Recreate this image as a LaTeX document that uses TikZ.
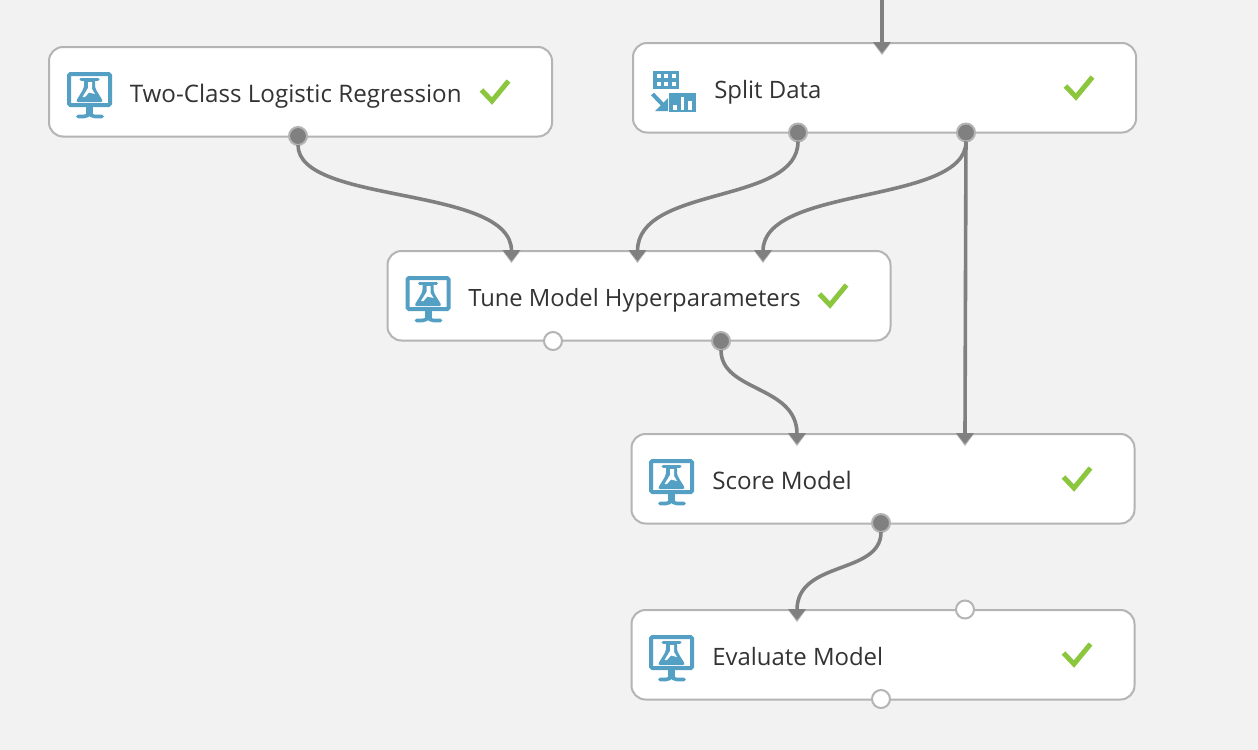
\documentclass[tikz,border=0pt]{standalone}
\usepackage{fontspec}
\setmainfont{Open Sans}
\definecolor{bgc}{HTML}{F2F2F2}
\definecolor{edgec}{HTML}{B4B4B4}
\definecolor{wirec}{HTML}{808080}
\definecolor{iconc}{HTML}{53A0C4}
\definecolor{okc}{HTML}{8CC63F}
\definecolor{txtc}{HTML}{333333}
\tikzset{
  x=0.75pt,y=-0.75pt,
  modbox/.style={draw=edgec,line width=2pt*0.75,fill=white,rounded corners=14pt*0.75,minimum width=503*0.75pt,minimum height=89.5*0.75pt,inner sep=0pt,outer sep=0pt},
  lbl/.style={text=txtc,font=\fontsize{17.95pt}{22pt}\selectfont,anchor=base west,inner sep=0pt},
  lblwide/.style={lbl,font=\fontsize{18.12pt}{22pt}\selectfont},
  lblnarrow/.style={lbl,font=\fontsize{17.85pt}{22pt}\selectfont},
  outport/.style={circle,draw=edgec,line width=2pt*0.75,fill=wirec,minimum size=18*0.75pt,inner sep=0pt,outer sep=0pt},
  freeport/.style={circle,draw=edgec,line width=2pt*0.75,fill=white,minimum size=18*0.75pt,inner sep=0pt,outer sep=0pt},
  wire/.style={draw=wirec,line width=3.6pt*0.75},
  oktick/.style={draw=okc,line width=5pt*0.75,line join=miter},
  pics/inport/.style={code={
    \fill[edgec] (-9.5,-1) -- (9.5,-1) -- (0,12) -- cycle;
    \fill[wirec] (-9,-1) -- (9,-1) -- (0,10) -- cycle;
  }},
  pics/flask/.style={code={
    \draw[iconc,line width=4pt*0.75,rounded corners=1pt] (20,27) rectangle (61,58);
    \fill[iconc] (37,58) rectangle (44,68);
    \draw[iconc,line width=3.6pt*0.75,line cap=round] (29,69.5) -- (35,69.5) .. controls (38,69.5) and (39.5,68) .. (40.5,66) .. controls (41.5,68) and (43,69.5) .. (46,69.5) -- (53,69.5);
    \draw[iconc,line width=3pt*0.75,line cap=round] (32,32.5) -- (49,32.5);
    \fill[iconc,rounded corners=2pt] (35,32) -- (46,32) -- (46,41) -- (54.5,55) -- (26.5,55) -- (35,41) -- cycle;
    \fill[white] (39,35) -- (43,35) -- (43,42) -- (46,47) -- (40,45.5) -- (36,50) -- (33.5,50) -- (39,41) -- cycle;
  }},
  pics/splitic/.style={code={
    \fill[iconc] (20,28) rectangle (46,46);
    \foreach \a in {24,31,39} \foreach \b in {31,39} \fill[white] (\a,\b) rectangle +(4,4);
    \fill[iconc] (36,50) rectangle (63,69);
    \fill[white] (40,62) rectangle (44,67);
    \fill[white] (48,54) rectangle (51,67);
    \fill[white] (55,58) rectangle (59,67);
    \draw[iconc,line width=4pt*0.75] (19.5,51) -- (31,63);
    \fill[iconc] (35,55) -- (35,68) -- (22,68) -- cycle;
  }},
}
\begin{document}
\begin{tikzpicture}
\fill[bgc] (0,0) rectangle (1258,750);
\useasboundingbox (0,0) rectangle (1258,750);

\coordinate (top) at (882,0);

% module boxes
\node[modbox,anchor=north west] (logit) at (49,47) {};
\node[modbox,anchor=north west] (split) at (633,43) {};
\node[modbox,anchor=north west] (tune)  at (387.5,251) {};
\node[modbox,anchor=north west] (score) at (631.5,434) {};
\node[modbox,anchor=north west] (eval)  at (631.5,610) {};

% connection anchors for input triangles
\coordinate (splitin) at (882,43);
\coordinate (tunea) at (511.5,251);
\coordinate (tuneb) at (637.5,251);
\coordinate (tunec) at (763,251);
\coordinate (scorea) at (797,434);
\coordinate (scoreb) at (965,434);
\coordinate (evala) at (797,610);

% output and free ports
\node[outport] (logitout) at (298,136) {};
\node[outport] (splita) at (798,132.5) {};
\node[outport] (splitb) at (966,132.5) {};
\node[freeport] (tunefree) at (553,341) {};
\node[outport] (tuneout) at (721,341) {};
\node[outport] (scoreout) at (881,523) {};
\node[freeport] (evalfree) at (965,609.5) {};
\node[freeport] (evalout) at (881,699) {};

% connectors
\draw[wire] (top) -- (splitin);
\draw[wire] (logitout) .. controls (298,205) and (511.5,185) .. (tunea);
\draw[wire] (splita) .. controls (798,205) and (637.5,185) .. (tuneb);
\draw[wire] (splitb) .. controls (966,205) and (763,185) .. (tunec);
\draw[wire] (splitb) -- (scoreb);
\draw[wire] (tuneout) .. controls (721,392) and (797,385) .. (scorea);
\draw[wire] (scoreout) .. controls (881,575) and (797,560) .. (evala);

\foreach \c in {splitin,tunea,tuneb,tunec,scorea,scoreb,evala} \pic at (\c) {inport};

% icons
\pic at (49,47) {flask};
\pic at (633,43) {splitic};
\pic at (387.5,251) {flask};
\pic at (631,434) {flask};
\pic at (631,610) {flask};

% labels
\node[lblwide] (logitt) at (129.5,102) {Two-Class Logistic Regression};
\node[lbl] (splitt) at (714,98) {Split Data};
\node[lblnarrow] (tunet) at (468,306) {Tune Model Hyperparameters};
\node[lblwide] (scoret) at (712,489) {Score Model};
\node[lbl] (evalt) at (712,665) {Evaluate Model};

% ticks
\draw[oktick] (481.5,90) -- (492,101) -- (508.5,81);
\draw[oktick] (1065.5,86) -- (1076,97) -- (1092.5,77);
\draw[oktick] (819.5,294) -- (830,305) -- (846.5,285);
\draw[oktick] (1063.5,477) -- (1074,488) -- (1090.5,468);
\draw[oktick] (1063.5,653) -- (1074,664) -- (1090.5,644);
\end{tikzpicture}
\end{document}
